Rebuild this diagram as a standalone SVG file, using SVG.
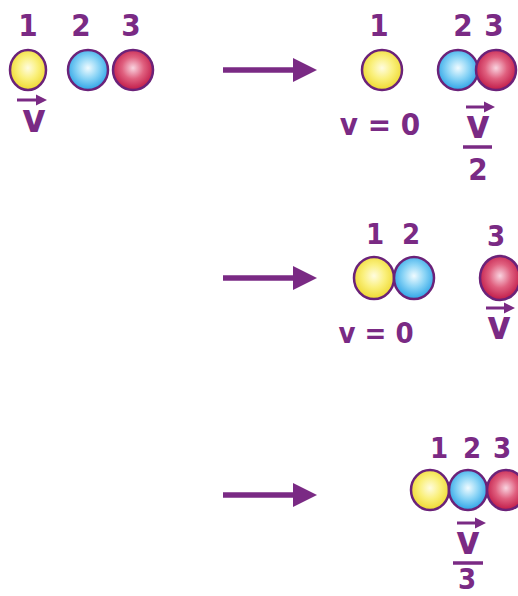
<svg xmlns="http://www.w3.org/2000/svg" width="518" height="596" viewBox="0 0 518 596">
<defs>
<radialGradient id="gy" cx="50%" cy="45%" r="55%"><stop offset="0" stop-color="#fffce0"/><stop offset="0.5" stop-color="#faf07c"/><stop offset="1" stop-color="#eed830"/></radialGradient>
<radialGradient id="gb" cx="50%" cy="45%" r="55%"><stop offset="0" stop-color="#f0fbff"/><stop offset="0.5" stop-color="#8ad4f6"/><stop offset="1" stop-color="#2ea4e6"/></radialGradient>
<radialGradient id="gr" cx="50%" cy="45%" r="55%"><stop offset="0" stop-color="#f9d4e0"/><stop offset="0.5" stop-color="#e0607f"/><stop offset="1" stop-color="#c01a48"/></radialGradient>
<style>
.ball{stroke:#6b2279;stroke-width:2.5}
.y{fill:url(#gy)}.b{fill:url(#gb)}.r{fill:url(#gr)}
text{font-family:"DejaVu Sans Condensed","DejaVu Sans","Liberation Sans",sans-serif;font-stretch:condensed;font-weight:bold;fill:#7a2a84;text-anchor:middle}
.n{font-size:31px}.n2{font-size:29px}
.vv{font-size:40px}
.vec{stroke:#7a2a84;stroke-width:3;fill:none}
.vh{fill:#7a2a84}
.bar{stroke:#7a2a84;stroke-width:3.5}
.shaft{stroke:#7a2a84;stroke-width:5.5}
.head{fill:#7a2a84}
</style>
</defs>

<g id="row1-before">
<g id="ball1a"><ellipse class="ball y" cx="28" cy="70" rx="18" ry="20"/><text class="n" x="28" y="36">1</text></g>
<g id="ball2a"><ellipse class="ball b" cx="88" cy="70" rx="20" ry="20"/><text class="n" x="81" y="36">2</text></g>
<g id="ball3a"><ellipse class="ball r" cx="133" cy="70" rx="20" ry="20"/><text class="n" x="131" y="36">3</text></g>
<g id="vel1a"><line class="vec" x1="17" y1="100" x2="38" y2="100"/><polygon class="vh" points="36,94.5 47,100 36,105.5"/><text class="vv" x="34" y="132">v</text></g>
</g>

<g id="row1-after">
<g id="ball1b"><ellipse class="ball y" cx="382" cy="70" rx="20" ry="20"/><text class="n" x="379" y="36">1</text></g>
<g id="ball2b"><ellipse class="ball b" cx="458" cy="70" rx="20" ry="20"/><text class="n" x="463" y="36">2</text></g>
<g id="ball3b"><ellipse class="ball r" cx="496" cy="70" rx="20" ry="20"/><text class="n" x="494" y="36">3</text></g>
<g id="v0b"><text class="n" x="380" y="135">v = 0</text></g>
<g id="vel2b"><line class="vec" x1="466" y1="107" x2="486" y2="107"/><polygon class="vh" points="484,101.5 495,107 484,112.5"/><text class="vv" x="478" y="138">v</text><line class="bar" x1="463" y1="147" x2="492" y2="147"/><text class="n" x="478" y="180">2</text></g>
</g>

<g id="row2-after">
<g id="ball1c"><ellipse class="ball y" cx="374" cy="278" rx="20" ry="21"/><text class="n2" x="375" y="244">1</text></g>
<g id="ball2c"><ellipse class="ball b" cx="414" cy="278" rx="20" ry="21"/><text class="n2" x="411" y="244">2</text></g>
<g id="ball3c"><ellipse class="ball r" cx="500" cy="278" rx="20" ry="22"/><text class="n2" x="496" y="246">3</text></g>
<g id="v0c"><text class="n2" x="376" y="343">v = 0</text></g>
<g id="vel3c"><line class="vec" x1="486" y1="308" x2="506" y2="308"/><polygon class="vh" points="504,302.5 515,308 504,313.5"/><text class="vv" x="499" y="339">v</text></g>
</g>

<g id="row3-after">
<g id="ball1d"><ellipse class="ball y" cx="430" cy="490" rx="19" ry="20"/><text class="n2" x="439" y="458">1</text></g>
<g id="ball2d"><ellipse class="ball b" cx="468" cy="490" rx="19" ry="20"/><text class="n2" x="472" y="458">2</text></g>
<g id="ball3d"><ellipse class="ball r" cx="506" cy="490" rx="19" ry="20"/><text class="n2" x="502" y="458">3</text></g>
<g id="vel3d"><line class="vec" x1="457" y1="523" x2="477" y2="523"/><polygon class="vh" points="475,517.5 486,523 475,528.5"/><text class="vv" x="468" y="554">v</text><line class="bar" x1="453" y1="563" x2="483" y2="563"/><text class="n2" x="467" y="589">3</text></g>
</g>

<g id="connectors">
<line class="shaft" x1="223" y1="70" x2="296" y2="70"/><polygon class="head" points="293,58 317,70 293,82"/>
<line class="shaft" x1="223" y1="278" x2="296" y2="278"/><polygon class="head" points="293,266 317,278 293,290"/>
<line class="shaft" x1="223" y1="495" x2="296" y2="495"/><polygon class="head" points="293,483 317,495 293,507"/>
</g>
</svg>
